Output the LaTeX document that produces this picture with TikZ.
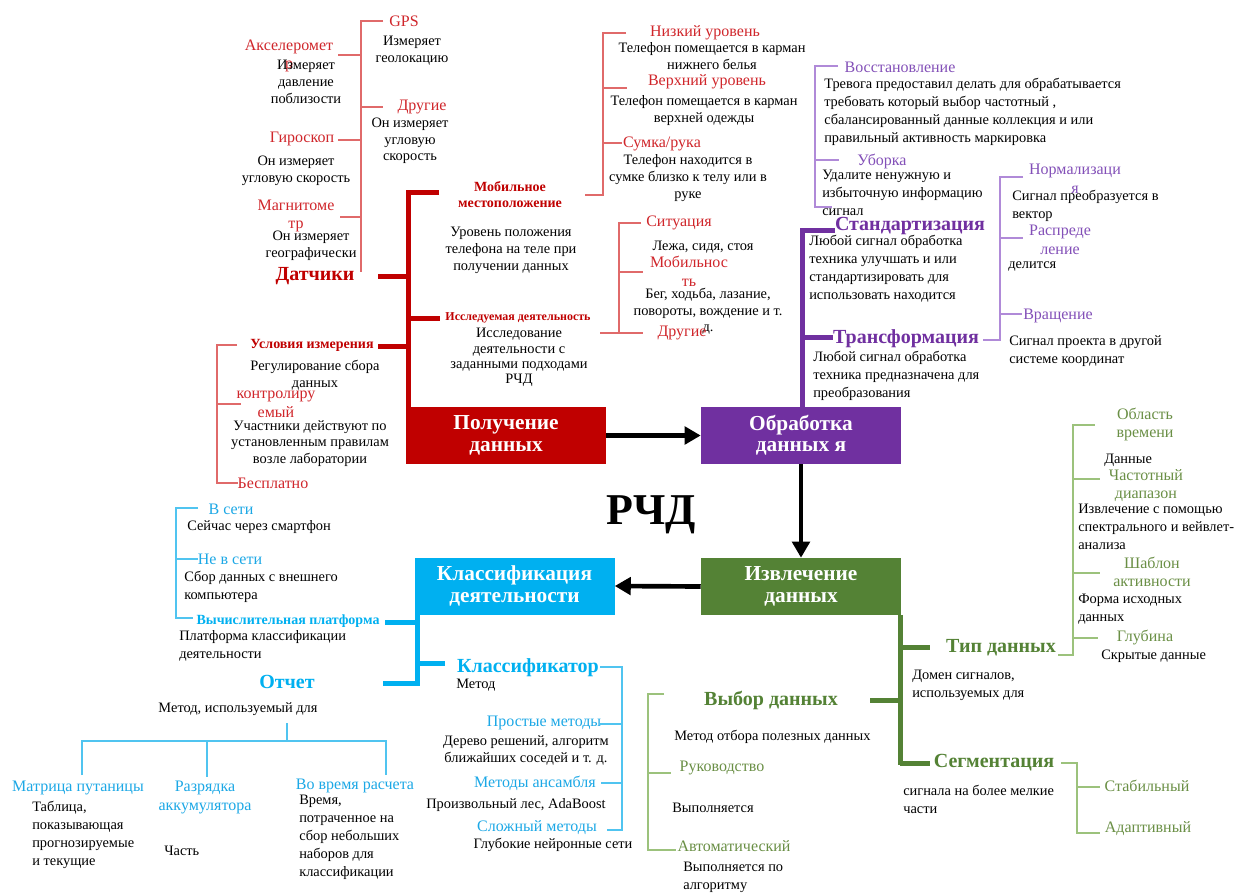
\documentclass[tikz,border=0pt]{standalone}
\usepackage{fontspec}
\setmainfont{Liberation Serif}
\usetikzlibrary{arrows.meta}
\definecolor{acqred}{HTML}{C00000}
\definecolor{acqlbl}{HTML}{D0262B}
\definecolor{acqline}{HTML}{E06A6A}
\definecolor{procpurple}{HTML}{7030A0}
\definecolor{proclbl}{HTML}{8350B8}
\definecolor{procline}{HTML}{B08AD8}
\definecolor{extrgreen}{HTML}{548235}
\definecolor{extrlbl}{HTML}{6A8F45}
\definecolor{extrline}{HTML}{9CC27C}
\definecolor{clsblue}{HTML}{00B0F0}
\definecolor{clslbl}{HTML}{1CA8E6}
\definecolor{clsline}{HTML}{50C4F0}

\begin{document}
\begin{tikzpicture}[x=0.75pt,y=0.75pt,yscale=-1,xscale=1,
	mainbox/.style={minimum width=150pt,minimum height=42.75pt,inner sep=0pt,text=white,font=\fontsize{16}{16}\selectfont\bfseries,align=center},
	txtc/.style={inner sep=0.75pt,font=\fontsize{10.8}{12.5}\selectfont,text=black,align=center},
	txtl/.style={inner sep=0.75pt,font=\fontsize{10.8}{13.5}\selectfont,text=black,align=left,anchor=west},
	lbl/.style={inner sep=0.75pt,font=\fontsize{12}{14}\selectfont,align=center},
	hd/.style={inner sep=0.75pt,font=\fontsize{15}{18}\selectfont\bfseries},
	sm/.style={inner sep=0.75pt,font=\fontsize{10.5}{12}\selectfont\bfseries,align=center},
	stem/.style={line width=3.75pt},
	twig/.style={line width=1pt},
	flow/.style={line width=3.5pt,-{Triangle[length=12pt,width=13pt]}}]
\fill [white] (0,0) rectangle (1240,893);

% main stages
\draw (506,435.5) node (acq) [mainbox,fill=acqred] {Получение\\данных};
\draw (801,435.5) node (proc) [mainbox,fill=procpurple] {Обработка\\данных я};
\draw (801,586.5) node (extr) [mainbox,fill=extrgreen] {Извлечение\\данных};
\draw (514.5,586) node (cls) [mainbox,fill=clsblue] {Классификация\\деятельности};
\draw (651,515) node (title) [font=\fontsize{33}{38}\selectfont\bfseries] {РЧД};
\draw [flow] (acq) -- (proc);
\draw [flow] (proc) -- (extr);
\draw [flow] (extr.west) -- (cls.east);

% acquisition
\draw [stem,acqred] (439,192) -- (408,192) -- (408,407);
\draw [stem,acqred] (378,276) -- (408,276);
\draw [stem,acqred] (408,318) -- (440,318);
\draw [stem,acqred] (378,346) -- (408,346);
\draw [twig,acqline] (383,21) -- (361,21) -- (361,272);
\draw [twig,acqline] (338,55) -- (361,55);
\draw [twig,acqline] (361,107) -- (383,107);
\draw [twig,acqline] (338,140) -- (361,140);
\draw [twig,acqline] (340,217) -- (361,217);
\draw [twig,acqline] (626,33) -- (603,33) -- (603,195) -- (585,195);
\draw [twig,acqline] (603,88) -- (627,88);
\draw [twig,acqline] (603,143) -- (622,143);
\draw [twig,acqline] (641,223) -- (619,223) -- (619,333);
\draw [twig,acqline] (619,272) -- (643,272);
\draw [twig,acqline] (600,333) -- (643,333);
\draw [twig,acqline] (237,345) -- (217,345) -- (217,483) -- (238,483);
\draw [twig,acqline] (217,404) -- (241,404);

\draw (315,276) node (sens) [hd,text=acqred] {Датчики};
\draw (404,21) node (gps) [lbl,text=acqlbl] {GPS};
\draw (412,51) node (gpsT) [txtc] {Измеряет\\геолокацию};
\draw (289,56) node (acc) [lbl,text=acqlbl] {Акселеромет\\р};
\draw (306,82) node (accT) [txtc] {Измеряет\\давление\\поблизости};
\draw (422,107) node (oth) [lbl,text=acqlbl] {Другие};
\draw (410,141) node (othT) [txtc] {Он измеряет\\угловую\\скорость};
\draw (302,139) node (gyr) [lbl,text=acqlbl] {Гироскоп};
\draw (296,170.5) node (gyrT) [txtc] {Он измеряет\\угловую скорость};
\draw (296,216) node (mag) [lbl,text=acqlbl] {Магнитоме\\тр};
\draw (311,245.5) node (magT) [txtc] {Он измеряет\\географически};

\draw (510,195) node (mob) [sm,text=acqred] {Мобильное\\местоположение};
\draw (511,250.5) node (mobT) [txtc] {Уровень положения\\телефона на теле при\\получении данных};
\draw (705,33) node (low) [lbl,text=acqlbl] {Низкий уровень};
\draw (712,56) node (lowT) [txtc] {Телефон помещается в карман\\нижнего белья};
\draw (707,82) node (up) [lbl,text=acqlbl] {Верхний уровень};
\draw (704,110.5) node (upT) [txtc] {Телефон помещается в карман\\верхней одежды};
\draw (662,144) node (bag) [lbl,text=acqlbl] {Сумка/рука};
\draw (688,178) node (bagT) [txtc] {Телефон находится в\\сумке близко к телу или в\\руке};

\draw (518,318) node (act) [sm,font=\fontsize{9}{11}\selectfont\bfseries,text=acqred] {Исследуемая деятельность};
\draw (519,357.5) node (actT) [txtc,font=\fontsize{10.8}{11.5}\selectfont] {Исследование\\деятельности с\\заданными подходами\\РЧД};
\draw (679,223) node (sit) [lbl,text=acqlbl] {Ситуация};
\draw (703,247) node (sitT) [txtc] {Лежа, сидя, стоя};
\draw (689,271) node (mov) [lbl,text=acqlbl] {Мобильнос\\ть};
\draw (708,311.5) node (movT) [txtc] {Бег, ходьба, лазание,\\повороты, вождение и т.\\д.};
\draw (682,333) node (oth2) [lbl,text=acqlbl] {Другие};

\draw (312,345) node (cond) [sm,text=acqred] {Условия измерения};
\draw (315,375) node (condT) [txtc] {Регулирование сбора\\данных};
\draw (276,404.5) node (ctl) [lbl,text=acqlbl] {контролиру\\емый};
\draw (310,443.5) node (ctlT) [txtc] {Участники действуют по\\установленным правилам\\возле лаборатории};
\draw (273,483) node (free) [lbl,text=acqlbl] {Бесплатно};

% processing
\draw [stem,procpurple] (835,230) -- (802,230) -- (802,407);
\draw [stem,procpurple] (802,337) -- (833,337);
\draw [twig,procline] (838,66) -- (815,66) -- (815,207) -- (832,207);
\draw [twig,procline] (815,160) -- (839,160);
\draw [twig,procline] (1023,177) -- (1000,177) -- (1000,340) -- (983,340);
\draw [twig,procline] (1000,238) -- (1023,238);
\draw [twig,procline] (1000,314) -- (1022,314);

\draw (900,67) node (rec) [lbl,text=proclbl] {Восстановление};
\draw (823,111.5) node (recT) [txtl] {Тревога предоставил делать для обрабатывается\\требовать который выбор частотный ,\\сбалансированный данные коллекция и или\\правильный активность маркировка};
\draw (882,161) node (cln) [lbl,text=proclbl] {Уборка};
\draw (821,192.5) node (clnT) [txtl] {Удалите ненужную и\\избыточную информацию\\сигнал};
\draw (910,226) node (std) [hd,text=procpurple] {Стандартизация};
\draw (808,269) node (stdT) [txtl] {Любой сигнал обработка\\техника улучшать и или\\стандартизировать для\\использовать находится};
\draw (906,339) node (trf) [hd,text=procpurple] {Трансформация};
\draw (812,375.5) node (trfT) [txtl] {Любой сигнал обработка\\техника предназначена для\\преобразования};
\draw (1075,179) node (nrm) [lbl,text=proclbl] {Нормализаци\\я};
\draw (1011,206) node (nrmT) [txtl] {Сигнал преобразуется в\\вектор};
\draw (1060,240) node (dst) [lbl,text=proclbl] {Распреде\\ление};
\draw (1007,266) node (dstT) [txtl] {делится};
\draw (1058,316) node (rot) [lbl,text=proclbl] {Вращение};
\draw (1008,351) node (rotT) [txtl] {Сигнал проекта в другой\\системе координат};

% extraction
\draw [stem,extrgreen] (900,615) -- (900,765);
\draw [stem,extrgreen] (900,647) -- (930,647);
\draw [stem,extrgreen] (870,700) -- (900,700);
\draw [stem,extrgreen] (900,763) -- (930,763);
\draw [twig,extrline] (1058,655) -- (1073,655) -- (1073,425) -- (1095,425);
\draw [twig,extrline] (1073,479) -- (1100,479);
\draw [twig,extrline] (1073,573) -- (1100,573);
\draw [twig,extrline] (1073,638) -- (1098,638);
\draw [twig,extrline] (664,694) -- (648,694) -- (648,850) -- (676,850);
\draw [twig,extrline] (648,773) -- (671,773);
\draw [twig,extrline] (1061,763) -- (1077,763) -- (1077,833) -- (1100,833);
\draw [twig,extrline] (1077,787) -- (1100,787);

\draw (1001,648) node (typ) [hd,text=extrgreen] {Тип данных};
\draw (911,685) node (typT) [txtl] {Домен сигналов,\\используемых для};
\draw (1145,424.5) node (tdom) [lbl,text=extrlbl] {Область\\времени};
\draw (1103,460) node (tdomT) [txtl] {Данные};
\draw (1146,485.5) node (fdom) [lbl,text=extrlbl] {Частотный\\диапазон};
\draw (1077,527) node (fdomT) [txtl] {Извлечение с помощью\\спектрального и вейвлет-\\анализа};
\draw (1152,572) node (pat) [lbl,text=extrlbl] {Шаблон\\активности};
\draw (1077,609) node (patT) [txtl] {Форма исходных\\данных};
\draw (1145,637) node (dep) [lbl,text=extrlbl] {Глубина};
\draw (1100,656) node (depT) [txtl] {Скрытые данные};
\draw (771,700) node (sel) [hd,text=extrgreen] {Выбор данных};
\draw (673,737) node (selT) [txtl] {Метод отбора полезных данных};
\draw (722,768) node (man) [lbl,text=extrlbl] {Руководство};
\draw (671,808) node (manT) [txtl] {Выполняется};
\draw (734,846) node (aut) [lbl,text=extrlbl] {Автоматический};
\draw (682,877) node (autT) [txtl] {Выполняется по\\алгоритму};
\draw (994,763) node (seg) [hd,text=extrgreen] {Сегментация};
\draw (902,799) node (segT) [txtl] {сигнала на более мелкие\\части};
\draw (1147,786) node (stb) [lbl,text=extrlbl] {Стабильный};
\draw (1148,829) node (adp) [lbl,text=extrlbl] {Адаптивный};

% classification
\draw [stem,clsblue] (417,614) -- (417,683) -- (383,683);
\draw [stem,clsblue] (385,622) -- (417,622);
\draw [stem,clsblue] (417,663) -- (445,663);
\draw [twig,clsline] (198,508) -- (176,508) -- (176,618) -- (193,618);
\draw [twig,clsline] (176,559) -- (198,559);
\draw [twig,clsline] (600,667) -- (622,667) -- (622,830) -- (607,830);
\draw [twig,clsline] (600,724) -- (622,724);
\draw [twig,clsline] (601,783) -- (622,783);
\draw [twig,clsline] (287,723) -- (287,741);
\draw [twig,clsline] (82,775) -- (82,741) -- (386,741) -- (386,775);
\draw [twig,clsline] (207,741) -- (207,777);

\draw (288,621) node (plt) [sm,text=clsblue] {Вычислительная платформа};
\draw (178,646) node (pltT) [txtl] {Платформа классификации\\деятельности};
\draw (231,509) node (onl) [lbl,text=clslbl] {В сети};
\draw (186,527) node (onlT) [txtl] {Сейчас через смартфон};
\draw (230,559) node (off) [lbl,text=clslbl] {Не в сети};
\draw (183,587) node (offT) [txtl] {Сбор данных с внешнего\\компьютера};
\draw (528,668) node (clf) [hd,text=clsblue] {Классификатор};
\draw (455,685) node (clfT) [txtl] {Метод};
\draw (544,723) node (smp) [lbl,text=clslbl] {Простые методы};
\draw (526,750.5) node (smpT) [txtc] {Дерево решений, алгоритм\\ближайших соседей и т. д.};
\draw (535,783) node (ens) [lbl,text=clslbl] {Методы ансамбля};
\draw (516,805) node (ensT) [txtc] {Произвольный лес, AdaBoost};
\draw (537,828) node (cpx) [lbl,text=clslbl] {Сложный методы};
\draw (553,845) node (cpxT) [txtc] {Глубокие нейронные сети};
\draw (287,682) node (rep) [hd,text=clsblue] {Отчет};
\draw (238,709) node (repT) [txtc] {Метод, используемый для};
\draw (78,788) node (cm) [lbl,text=clslbl] {Матрица путаницы};
\draw (31,835) node (cmT) [txtl] {Таблица,\\показывающая\\прогнозируемые\\и текущие};
\draw (205,797.5) node (bat) [lbl,text=clslbl] {Разрядка\\аккумулятора};
\draw (163,851) node (batT) [txtl] {Часть};
\draw (355,786) node (dur) [lbl,text=clslbl] {Во время расчета};
\draw (298,837) node (durT) [txtl] {Время,\\потраченное на\\сбор небольших\\наборов для\\классификации};
\end{tikzpicture}
\end{document}
